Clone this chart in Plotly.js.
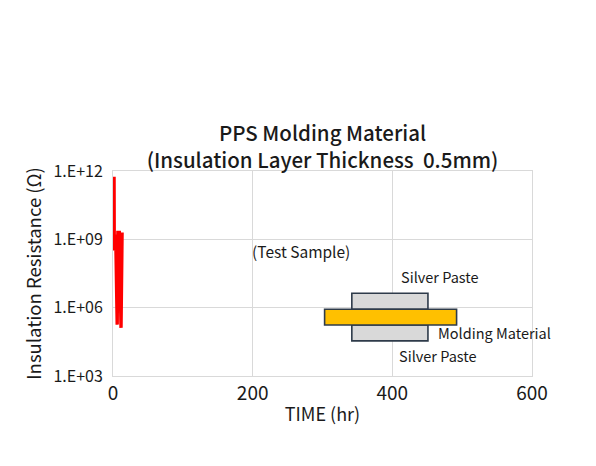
<!DOCTYPE html>
<html>
<head>
<meta charset="utf-8">
<script src="https://cdn.plot.ly/plotly-3.0.1.min.js"></script>
<style>
  html, body { margin: 0; padding: 0; background: #ffffff; }
  #chart { width: 596px; height: 466px; }
</style>
</head>
<body>
<div id="chart"></div>
<script>
// Insulation resistance measured over time (hours, ohms)
const timeHr = [1.5, 1.8, 2.5, 4, 6, 7, 9, 11.5, 13];
const resistanceOhm = [5.6e11, 3.2e8, 1.6e9, 1.0e9, 1.8e5, 2.0e9, 2.0e9, 1.3e5, 2.0e9];

// Axis ticks
const yTickVals = [1e3, 1e6, 1e9, 1e12];
const yTickText = ['1.E+03', '1.E+06', '1.E+09', '1.E+12'];
const xTickVals = [0, 200, 400, 600];

const FONT = '"Noto Sans CJK JP", "Noto Sans", sans-serif';
const INK = '#1a1a1a';
const GRID = '#d9d9d9';
const EDGE = '#2e3b4a';

// Cross-section sketch of the test sample: silver paste / molding / silver paste
// (vertical extents given as decades on the log axis)
const layers = [
  { x0: 342, x1: 451, d0: 5.93, d1: 6.63, fill: '#d9d9d9' },
  { x0: 342, x1: 451, d0: 4.54, d1: 5.24, fill: '#d9d9d9' },
  { x0: 303, x1: 492, d0: 5.24, d1: 5.93, fill: '#ffc000' }
];

const shapes = layers.map(l => ({
  type: 'rect', xref: 'x', yref: 'y',
  x0: l.x0, x1: l.x1, y0: Math.pow(10, l.d0), y1: Math.pow(10, l.d1),
  fillcolor: l.fill, line: { color: EDGE, width: 1.6 }, layer: 'above'
}));

const labelFont = { family: FONT, size: 14.5, color: INK };
const annotations = [
  { x: 269, y: 8.48, text: '(Test Sample)', xanchor: 'center', font: { family: FONT, size: 15.5, color: INK } },
  { x: 468, y: 7.39, text: 'Silver Paste', xanchor: 'center' },
  { x: 463, y: 4.9, text: 'Molding Material', xanchor: 'left' },
  { x: 465, y: 3.9, text: 'Silver Paste', xanchor: 'center' }
].map(a => Object.assign({
  xref: 'x', yref: 'y', showarrow: false, yanchor: 'middle', font: labelFont
}, a));

const trace = {
  x: timeHr,
  y: resistanceOhm,
  type: 'scatter',
  mode: 'lines',
  line: { color: '#ff0000', width: 3.4 },
  hoverinfo: 'x+y'
};

const layout = {
  width: 596,
  height: 466,
  margin: { l: 113, r: 64, t: 171, b: 90 },
  paper_bgcolor: '#ffffff',
  plot_bgcolor: '#ffffff',
  showlegend: false,
  font: { family: FONT, color: INK },
  title: {
    text: 'PPS Molding Material<br>(Insulation Layer Thickness  0.5mm)',
    font: { family: FONT, size: 20.5, color: INK, weight: 500 },
    x: 0.5, xref: 'paper', xanchor: 'center',
    y: 0.697, yref: 'container', yanchor: 'top'
  },
  xaxis: {
    range: [0, 600],
    tickvals: xTickVals,
    ticks: '',
    tickfont: { family: FONT, size: 19, color: INK },
    showgrid: true, gridcolor: GRID, gridwidth: 1,
    showline: true, linecolor: GRID, linewidth: 1, mirror: true,
    zeroline: false,
    title: { text: 'TIME (hr)', font: { family: FONT, size: 18, color: INK }, standoff: 4 }
  },
  yaxis: {
    type: 'log',
    range: [3, 12],
    tickvals: yTickVals,
    ticktext: yTickText,
    ticks: '',
    ticklabelstandoff: 6,
    tickfont: { family: FONT, size: 16, color: INK },
    showgrid: true, gridcolor: GRID, gridwidth: 1,
    showline: true, linecolor: GRID, linewidth: 1, mirror: true,
    zeroline: false,
    title: { text: 'Insulation Resistance (Ω)', font: { family: FONT, size: 18.5, color: INK }, standoff: 6 }
  },
  shapes: shapes,
  annotations: annotations
};

Plotly.newPlot('chart', [trace], layout, { displayModeBar: false, staticPlot: true });
</script>
</body>
</html>
